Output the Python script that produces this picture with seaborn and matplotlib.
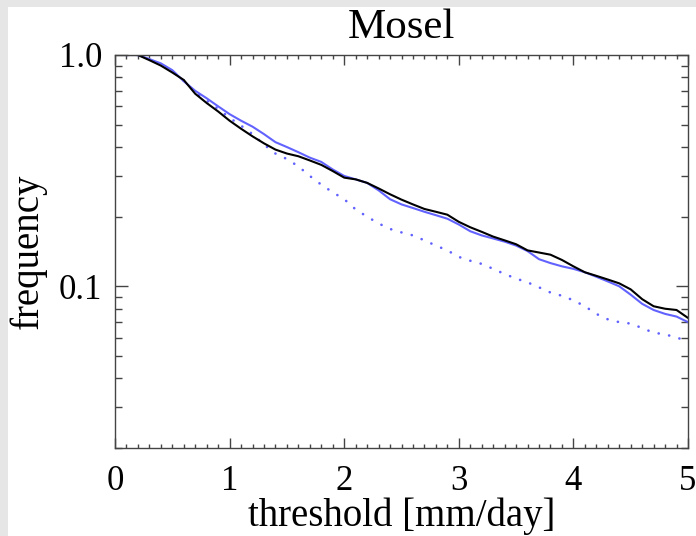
import numpy as np
import pandas as pd
import matplotlib
matplotlib.use("Agg")
import matplotlib.pyplot as plt
import matplotlib.ticker as mticker
from matplotlib.patches import Rectangle
import seaborn as sns

sns.set_style("ticks")
plt.rcParams['font.family'] = ['Liberation Serif', 'DejaVu Serif']
plt.rcParams['text.color'] = 'black'
plt.rcParams['axes.labelcolor'] = 'black'
plt.rcParams['xtick.labelcolor'] = 'black'
plt.rcParams['ytick.labelcolor'] = 'black'

title = "Mosel"
xlabel = "threshold [mm/day]"
ylabel = "frequency"

threshold = [0.1, 0.2, 0.3, 0.4, 0.5, 0.6, 0.7, 0.8, 0.9, 1.0,
             1.1, 1.2, 1.3, 1.4, 1.5, 1.6, 1.7, 1.8, 1.9, 2.0,
             2.1, 2.2, 2.3, 2.4, 2.5, 2.6, 2.7, 2.8, 2.9, 3.0,
             3.1, 3.2, 3.3, 3.4, 3.5, 3.6, 3.7, 3.8, 3.9, 4.0,
             4.1, 4.2, 4.3, 4.4, 4.5, 4.6, 4.7, 4.8, 4.9, 5.0]

freq_black = [1.0, 1.0, 0.95, 0.90, 0.84, 0.78, 0.68, 0.62, 0.57, 0.52,
              0.48, 0.445, 0.415, 0.39, 0.375, 0.365, 0.35, 0.335, 0.315, 0.295,
              0.29, 0.28, 0.265, 0.25, 0.237, 0.226, 0.216, 0.21, 0.204, 0.19,
              0.18, 0.172, 0.164, 0.158, 0.152, 0.143, 0.14, 0.137, 0.13, 0.122,
              0.115, 0.111, 0.107, 0.103, 0.097, 0.088, 0.082, 0.080, 0.079, 0.073]

freq_blue = [1.0, 1.0, 0.96, 0.92, 0.86, 0.77, 0.70, 0.65, 0.60, 0.555,
             0.52, 0.49, 0.455, 0.42, 0.40, 0.38, 0.36, 0.345, 0.32, 0.30,
             0.29, 0.28, 0.26, 0.238, 0.226, 0.218, 0.21, 0.203, 0.196, 0.185,
             0.173, 0.166, 0.161, 0.156, 0.150, 0.142, 0.131, 0.126, 0.122, 0.119,
             0.115, 0.110, 0.105, 0.100, 0.092, 0.084, 0.079, 0.076, 0.074, 0.070]

freq_blue_dotted = [1.0, 1.0, 0.955, 0.91, 0.85, 0.775, 0.69, 0.635, 0.585, 0.535,
                    0.495, 0.455, 0.41, 0.375, 0.355, 0.33, 0.30, 0.275, 0.255, 0.238,
                    0.215, 0.20, 0.187, 0.177, 0.171, 0.166, 0.158, 0.15, 0.143, 0.134,
                    0.129, 0.125, 0.119, 0.113, 0.108, 0.104, 0.099, 0.094, 0.091, 0.087,
                    0.082, 0.076, 0.072, 0.070, 0.069, 0.066, 0.063, 0.062, 0.060, 0.058]

W, H = 696, 536
fig = plt.figure(figsize=(W / 100, H / 100), dpi=100)
fig.patch.set_facecolor('#e6e6e6')
fig.patches.append(Rectangle((8 / W, 0), 1 - 8 / W, 1 - 7 / H,
                             transform=fig.transFigure, facecolor='white',
                             edgecolor='none', zorder=-10))

ax = fig.add_axes([115 / W, 1 - 448 / H, (688 - 115) / W, (448 - 55) / H])
ax.set_facecolor('white')

blue = '#6262ff'
sns.lineplot(x=threshold, y=freq_blue_dotted, ax=ax, color=blue, lw=1.9,
             linestyle=(0, (0.05, 4.0)), dash_capstyle='round')
sns.lineplot(x=threshold, y=freq_blue, ax=ax, color=blue, lw=1.5)
sns.lineplot(x=threshold, y=freq_black, ax=ax, color='black', lw=1.5)

ax.set_yscale('log')
ax.set_xlim(0, 5)
ax.set_ylim(0.02, 1.0)

ax.xaxis.set_major_locator(mticker.MultipleLocator(1))
ax.xaxis.set_minor_locator(mticker.MultipleLocator(0.1))
ax.xaxis.set_major_formatter(mticker.FormatStrFormatter('%d'))
ax.yaxis.set_major_locator(mticker.FixedLocator([0.1, 1.0]))
ax.yaxis.set_major_formatter(mticker.FixedFormatter(['0.1', '1.0']))
ax.yaxis.set_minor_locator(mticker.LogLocator(base=10, subs=np.arange(2, 10)))
ax.yaxis.set_minor_formatter(mticker.NullFormatter())

for s in ax.spines.values():
    s.set_visible(True)
    s.set_color('#444444')
    s.set_linewidth(1.0)

ax.tick_params(axis='both', which='both', direction='in', top=True, right=True,
               color='#444444', width=1.0, labelsize=25)
ax.tick_params(axis='x', which='major', length=7, pad=12)
ax.tick_params(axis='x', which='minor', length=3)
ax.tick_params(axis='y', which='major', length=9, pad=9)
ax.tick_params(axis='y', which='minor', length=5)

ax.set_xlabel(xlabel, fontsize=28, labelpad=0)
ax.set_ylabel(ylabel, fontsize=28, labelpad=9)
ax.set_title(title, fontsize=31, pad=12)

fig.savefig('out.png', dpi=100, facecolor=fig.get_facecolor())
